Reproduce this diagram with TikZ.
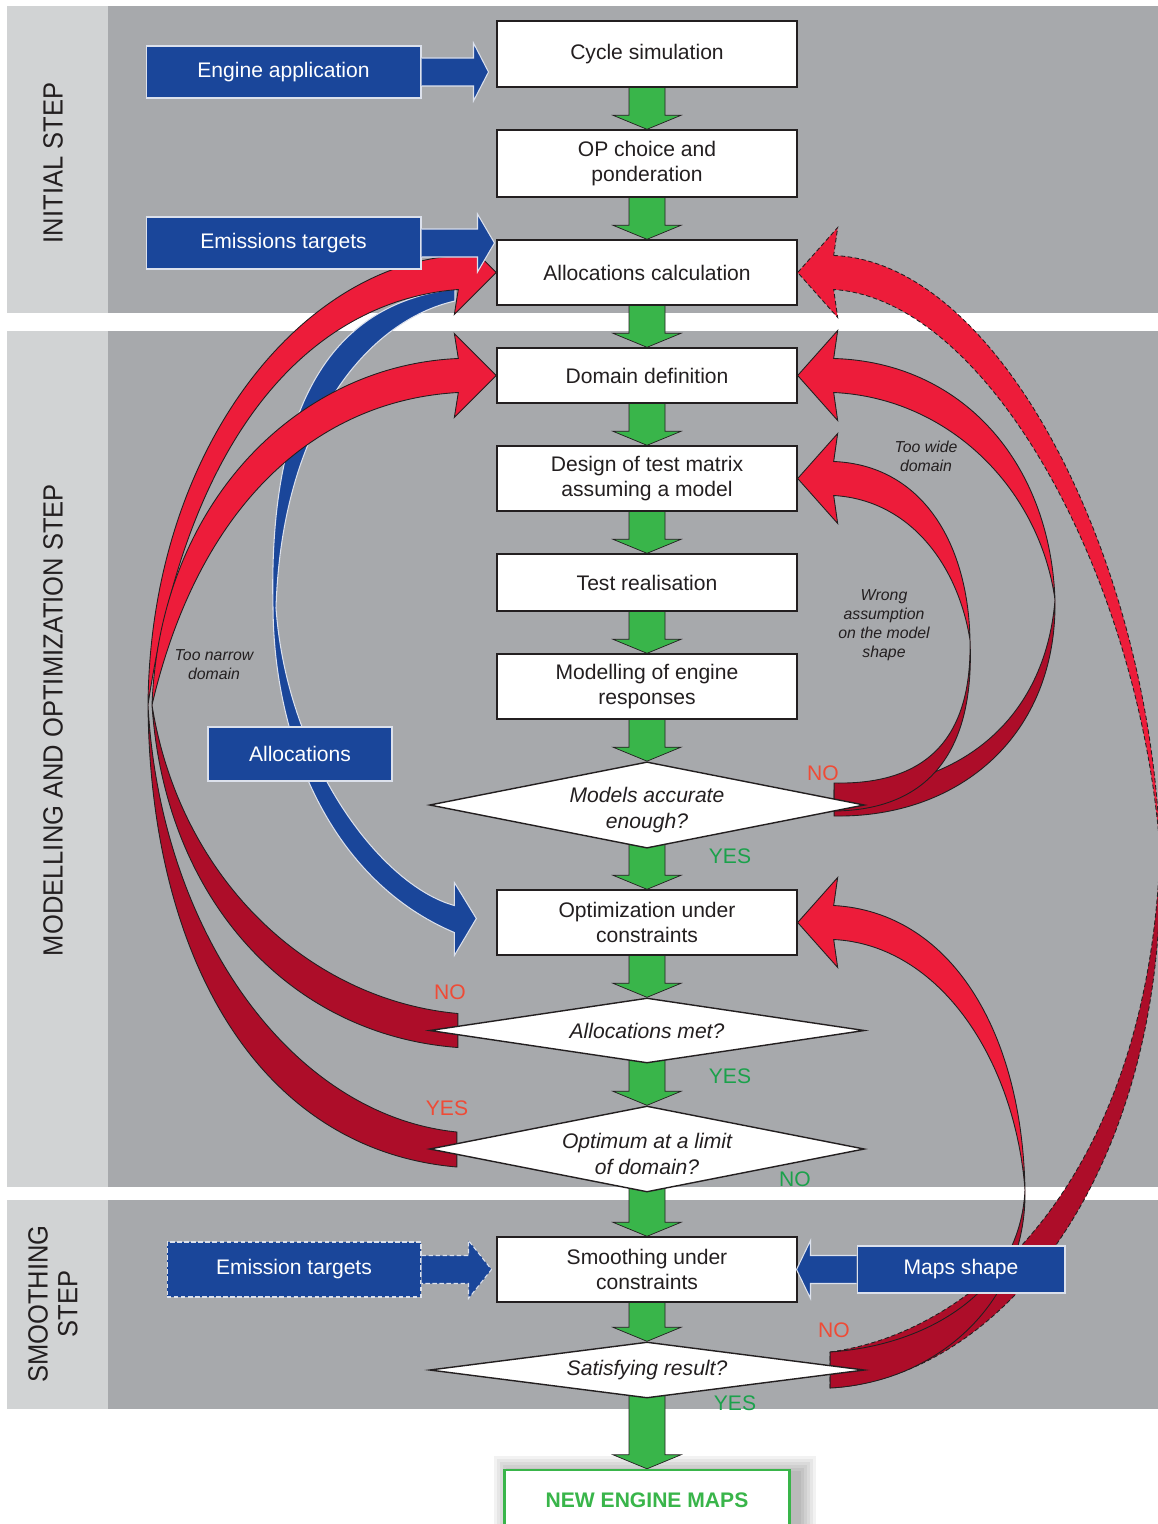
\documentclass[tikz,border=0pt]{standalone}
\usepackage{fontspec}
\setmainfont{Liberation Sans}
\usetikzlibrary{shapes.geometric}
\usetikzlibrary{calc}

\definecolor{bandgray}{HTML}{A7A9AC}
\definecolor{sidegray}{HTML}{D1D3D4}
\definecolor{inblue}{HTML}{1A469A}
\definecolor{inedge}{HTML}{DCE1EC}
\definecolor{flowgreen}{HTML}{39B54A}
\definecolor{loopred}{HTML}{ED1C3A}
\definecolor{loopdark}{HTML}{AD0D29}
\definecolor{nored}{HTML}{EF4B36}
\definecolor{yesgreen}{HTML}{1BA14B}
\definecolor{ink}{HTML}{231F20}

\pgfdeclarelayer{bands}
\pgfdeclarelayer{loops}
\pgfsetlayers{bands,loops,main}

\newcommand{\stepfont}{\fontsize{15.8}{17}\selectfont}
\newcommand{\boxfont}{\fontsize{12}{14.7}\selectfont}
\newcommand{\notefont}{\fontsize{9}{10.8}\selectfont\itshape}

% fat green arrow down the main column
\newcommand{\flowarrow}[2]{%
  \draw[greenarrow] ($(#1.center)+(-18,0)$) -- ($(#2.north)+(-18,-14)$)
    -- ($(#2.north)+(-34,-14)$) -- (#2.north) -- ($(#2.north)+(34,-14)$)
    -- ($(#2.north)+(18,-14)$) -- ($(#1.center)+(18,0)$) -- cycle;}
% blue arrow out of an input box
\newcommand{\inputarrow}[5][]{%
  \draw[inarrow,#1] ($(#2)+(0,-14)$) -- ($(#2)+({#5*#3},-14)$) -- ($(#2)+({#5*#3},-29)$)
    -- ($(#2)+({#5*(#3+#4)},0)$) -- ($(#2)+({#5*#3},29)$) -- ($(#2)+({#5*#3},14)$) -- ($(#2)+(0,14)$);}
% heads of the loop ribbons
\newcommand{\headL}[1]{-- ($(#1)+(-42,42)$) -- (#1) -- ($(#1)+(-42,-42)$) -- cycle}
\newcommand{\headR}[1]{-- ($(#1)+(40,45)$) -- (#1) -- ($(#1)+(40,-45)$) -- cycle}

\begin{document}
\begin{tikzpicture}[x=0.02cm, y=-0.02cm,
  stepbox/.style={draw=ink, line width=0.8pt, fill=white, text=ink, minimum width=6cm,
    minimum height=1.3cm, font=\boxfont, align=center, inner sep=0pt},
  decision/.style={diamond, draw=ink, line width=0.8pt, fill=white, text=ink,
    minimum width=8.7cm, inner sep=0pt, font=\boxfont\itshape, align=center},
  inbox/.style={fill=inblue, draw=inedge, line width=0.6pt, text=white, font=\boxfont, inner sep=0pt},
  inarrow/.style={fill=inblue, draw=inedge, line width=0.6pt},
  greenarrow/.style={fill=flowgreen, draw=ink, line width=0.4pt},
  loopfront/.style={fill=loopred, draw=ink, line width=0.5pt},
  loopback/.style={fill=loopdark, draw=ink, line width=0.5pt},
  loopdash/.style={dash pattern=on 2.5pt off 1.5pt},
  yesno/.style={font=\boxfont, inner sep=0pt},
  note/.style={font=\notefont, align=center, text=ink, inner sep=0pt},
  steplabel/.style={rotate=90, font=\stepfont, text=ink, align=center, inner sep=0pt}]

  \useasboundingbox (0,0) rectangle (1158,1524);

  % bands
  \begin{pgfonlayer}{bands}
    \foreach \ya/\yb in {6/313, 331/1187, 1200/1409} {
      \fill[bandgray] (7,\ya) rectangle (1158,\yb);
      \fill[sidegray] (7,\ya) rectangle (108,\yb);
    }
  \end{pgfonlayer}

  \node[steplabel] (initlbl) at (53,163) {\scalebox{0.92}[1]{INITIAL STEP}};
  \node[steplabel] (modlbl) at (53,720) {\scalebox{0.92}[1]{MODELLING AND OPTIMIZATION STEP}};
  \node[steplabel] (smolbl) at (53,1304) {\scalebox{0.92}[1]{SMOOTHING}\\\scalebox{0.92}[1]{STEP}};

  % main column
  \node[stepbox, minimum height=1.32cm] (cyc) at (647,54) {Cycle simulation};
  \node[stepbox, minimum height=1.34cm] (opc) at (647,163.5) {OP choice and\\ponderation};
  \node[stepbox] (alc) at (647,272.5) {Allocations calculation};
  \node[stepbox, minimum height=1.1cm] (dom) at (647,375.5) {Domain definition};
  \node[stepbox] (dsg) at (647,478.5) {Design of test matrix\\assuming a model};
  \node[stepbox, minimum height=1.14cm] (tst) at (647,582.5) {Test realisation};
  \node[stepbox] (mdl) at (647,686.5) {Modelling of engine\\responses};
  \node[decision, minimum height=1.72cm, shape aspect=5, text height=29pt] (acc) at (647,805) {Models accurate\\enough?};
  \node[stepbox] (opt) at (647,922.5) {Optimization under\\constraints};
  \node[decision, minimum height=1.3cm, shape aspect=6.7] (met) at (647,1030.5) {Allocations met?};
  \node[decision, minimum height=1.72cm, shape aspect=5, text height=29pt] (lim) at (647,1149) {Optimum at a limit\\of domain?};
  \node[stepbox] (smo) at (647,1269.5) {Smoothing under\\constraints};
  \node[decision, minimum height=1.12cm, shape aspect=7.8] (sat) at (647,1370) {Satisfying result?};
  \node[draw=flowgreen, line width=1.4pt, fill=white, minimum width=5.7cm, minimum height=1.2cm,
    font=\boxfont\bfseries, text=flowgreen] (newmaps) at (647,1500) {NEW ENGINE MAPS};

  % inputs
  \node[inbox, minimum width=5.5cm, minimum height=1.04cm] (eng) at (283.5,72) {Engine application};
  \node[inbox, minimum width=5.5cm, minimum height=1.04cm] (ems) at (283.5,243) {Emissions targets};
  \node[inbox, loopdash, minimum width=5.08cm, minimum height=1.1cm] (emt) at (294,1269.5) {Emission targets};
  \node[inbox, minimum width=4.16cm, minimum height=0.94cm] (msh) at (961,1269.5) {Maps shape};
  \node[inbox, minimum width=3.68cm, minimum height=1.08cm] (alb) at (300,754) {Allocations};

  \inputarrow{eng.east}{52}{15}{1}
  \inputarrow{ems.east}{56}{17}{1}
  \inputarrow[loopdash]{emt.east}{47}{23}{1}
  \inputarrow{msh.west}{46}{14}{-1}

  % answers and remarks
  \node[yesno, text=nored] (no1) at (823,773) {NO};
  \node[yesno, text=yesgreen] (yes1) at (730,856) {YES};
  \node[yesno, text=nored] (no2) at (450,992) {NO};
  \node[yesno, text=yesgreen] (yes2) at (730,1076) {YES};
  \node[yesno, text=nored] (yes3) at (447,1108) {YES};
  \node[yesno, text=yesgreen] (no3) at (795,1179) {NO};
  \node[yesno, text=nored] (no4) at (834,1330) {NO};
  \node[yesno, text=yesgreen] (yes4) at (735,1403) {YES};
  \node[note] (wide) at (926,456) {Too wide\\domain};
  \node[note] (wrong) at (884,625) {Wrong\\assumption\\on the model\\shape};
  \node[note] (narrow) at (214,665) {Too narrow\\domain};

  % twist points of the loops
  \coordinate (twL1) at (148,705);
  \coordinate (twL2) at (152,705);
  \coordinate (twRA) at (970,640);
  \coordinate (twRB) at (1055,600);
  \coordinate (twRC) at (1025,1190);
  \coordinate (twRD) at (1160,850);
  \coordinate (btip) at ($(opt.west)+(-20,-4)$);

  % soft shadow of the result box
  \begin{pgfonlayer}{bands}
    \foreach \s in {2,5,...,17}
      \fill[black, opacity=0.05] ($(newmaps.north west)+(8-\s,4-\s)$) rectangle ($(newmaps.south east)+(8+\s,4+\s)$);
  \end{pgfonlayer}

  \begin{pgfonlayer}{loops}
    \foreach \a/\b in {cyc/opc, opc/alc, alc/dom, dom/dsg, dsg/tst, tst/mdl, mdl/acc,
      acc/opt, opt/met, met/lim, lim/smo, smo/sat, sat/newmaps}
      \flowarrow{\a}{\b};

    % allocations feed
    \draw[inarrow] (455,289) .. controls (335,303) and (268,400) .. (273,608)
      .. controls (274,740) and (330,880) .. ($(btip)+(-22,14)$)
      -- ($(btip)+(-22,37)$) -- (btip) -- ($(btip)+(-22,-36)$) -- ($(btip)+(-22,-13)$)
      .. controls (380,885) and (287,760) .. (276,608)
      .. controls (282,420) and (370,320) .. (455,301) -- cycle;

    % left loops
    \draw[loopback] ($(lim.west)+(28,-17)$) .. controls (290,1115) and (160,930) .. (twL1)
      .. controls (150,960) and (260,1150) .. ($(lim.west)+(28,18)$) -- cycle;
    \draw[loopback] ($(met.west)+(29,-17)$) .. controls (310,1000) and (180,880) .. (twL2)
      .. controls (165,900) and (290,1035) .. ($(met.west)+(29,17)$) -- cycle;
    \draw[loopfront] ($(alc.west)+(-38,-17)$) .. controls (300,265) and (150,450) .. (twL1)
      .. controls (190,420) and (320,300) .. ($(alc.west)+(-38,17)$) \headL{alc.west};
    \draw[loopfront] ($(dom.west)+(-38,-17)$) .. controls (300,365) and (160,500) .. (twL2)
      .. controls (200,500) and (320,400) .. ($(dom.west)+(-38,17)$) \headL{dom.west};

    % right loops from the model check
    \draw[loopback] ($(acc.east)+(-31,-15)$) .. controls (960,790) and (1045,720) .. (twRB)
      .. controls (1057,735) and (960,818) .. ($(acc.east)+(-31,11)$) -- cycle;
    \draw[loopback] ($(acc.east)+(-31,-22)$) .. controls (930,785) and (972,735) .. (twRA)
      .. controls (975,750) and (930,810) .. ($(acc.east)+(-31,6)$) -- cycle;
    \draw[loopfront] ($(dom.east)+(36,-17)$) .. controls (960,362) and (1050,460) .. (twRB)
      .. controls (1040,490) and (950,398) .. ($(dom.east)+(36,17)$) \headR{dom.east};
    \draw[loopfront] ($(dsg.east)+(36,-17)$) .. controls (920,465) and (968,540) .. (twRA)
      .. controls (958,565) and (910,500) .. ($(dsg.east)+(36,17)$) \headR{dsg.east};

    % right loops from the smoothing check
    \draw[loopback, loopdash] ($(sat.east)+(-35,-18)$) .. controls (990,1330) and (1150,1160) .. (twRD)
      .. controls (1168,1160) and (1010,1376) .. ($(sat.east)+(-35,18)$) -- cycle;
    \draw[loopback] ($(sat.east)+(-35,-18)$) .. controls (930,1345) and (1020,1290) .. (twRC)
      .. controls (1027,1300) and (940,1382) .. ($(sat.east)+(-35,18)$) -- cycle;
    \draw[loopfront, loopdash] ($(alc.east)+(36,-17)$) .. controls (1000,262) and (1150,560) .. (twRD)
      .. controls (1140,580) and (990,300) .. ($(alc.east)+(36,17)$) \headR{alc.east};
    \draw[loopfront] ($(opt.east)+(36,-17)$) .. controls (950,912) and (1022,1030) .. (twRC)
      .. controls (1015,1060) and (940,945) .. ($(opt.east)+(36,17)$) \headR{opt.east};
  \end{pgfonlayer}
\end{tikzpicture}
\end{document}
